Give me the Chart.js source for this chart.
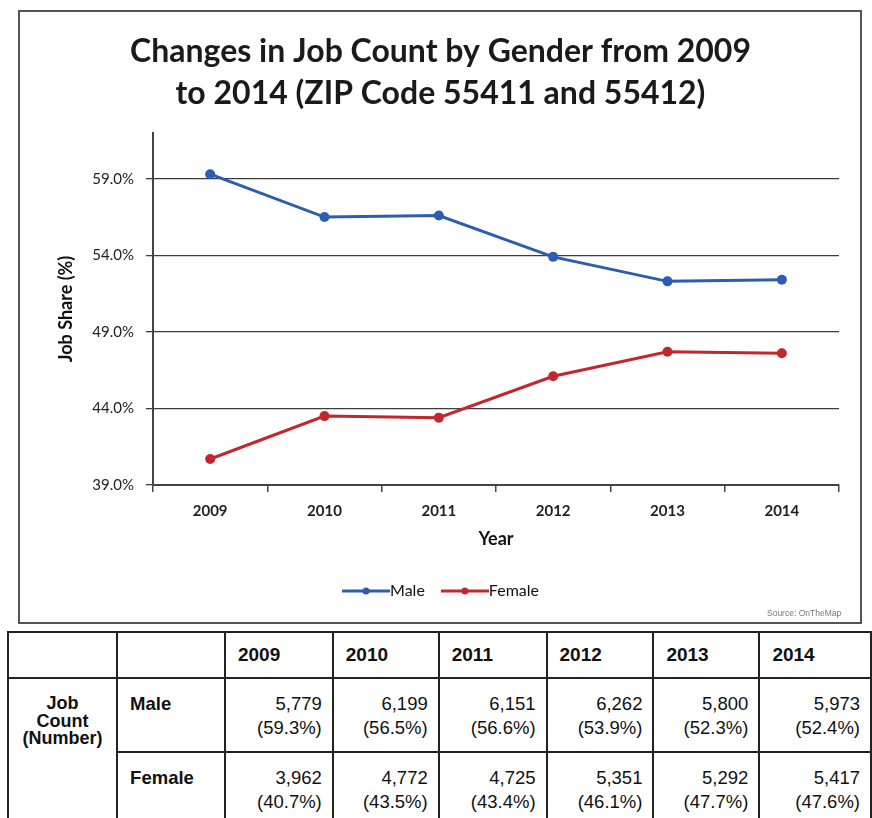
<!DOCTYPE html>
<html>
<head>
<meta charset="utf-8">
<title>Job Count by Gender</title>
<script src="https://cdn.jsdelivr.net/npm/chart.js@4.4.1/dist/chart.umd.min.js"></script>
<style>
  body { margin: 0; width: 872px; height: 818px; overflow: hidden; background: #fff; font-family: Lato, sans-serif; }
  #chartBox { position: absolute; left: 18px; top: 10px; width: 840px; height: 610px; border: 2px solid #555; background: #fff; }
  #jobChart { display: block; }
  #source { position: absolute; left: 747px; top: 596px; font: 8.5px "Liberation Sans", Arial, sans-serif; color: #777; }
  #jobTable { position: absolute; left: 7px; top: 631px; border-collapse: collapse; table-layout: fixed;
    font-family: "Liberation Sans", Arial, sans-serif; font-size: 18.5px; color: #111; }
  #jobTable td, #jobTable th { border: 2px solid #222; padding: 0; }
  #jobTable th { height: 44px; text-align: left; padding-left: 12px; font-weight: bold; font-size: 19px; }
  #jobTable td.val { text-align: right; vertical-align: top; padding: 13px 10px 0 0; line-height: 24px; height: 59px; }
  #jobTable td.sex { font-weight: bold; vertical-align: top; padding: 13px 0 0 12px; line-height: 24px; }
  #jobTable td.group { font-weight: bold; font-size: 18px; text-align: center; vertical-align: top; padding-top: 16px; line-height: 17.5px; }
</style>
</head>
<body>
<div id="chartBox">
  <canvas id="jobChart" width="840" height="610"></canvas>
  <div id="source">Source: OnTheMap</div>
</div>
<table id="jobTable"></table>

<script>
const years = ['2009', '2010', '2011', '2012', '2013', '2014'];
const maleShare = [59.3, 56.5, 56.6, 53.9, 52.3, 52.4];
const femaleShare = [40.7, 43.5, 43.4, 46.1, 47.7, 47.6];
const maleCount = [5779, 6199, 6151, 6262, 5800, 5973];
const femaleCount = [3962, 4772, 4725, 5351, 5292, 5417];
const yTicks = [39, 44, 49, 54, 59];

const blue = '#2d5db0';
const red = '#c1272d';

// legend swatch: short line with a dot in the middle
function legendMark(color) {
  const c = document.createElement('canvas');
  c.width = 56;
  c.height = 10;
  const g = c.getContext('2d');
  g.strokeStyle = color;
  g.lineWidth = 3;
  g.beginPath();
  g.moveTo(8, 5);
  g.lineTo(56, 5);
  g.stroke();
  g.fillStyle = color;
  g.beginPath();
  g.arc(32, 5, 3.5, 0, Math.PI * 2);
  g.fill();
  return c;
}
const marks = [legendMark(blue), legendMark(red)];

const ctx = document.getElementById('jobChart').getContext('2d');
new Chart(ctx, {
  type: 'line',
  data: {
    labels: years,
    datasets: [{
      label: 'Male',
      data: maleShare,
      borderColor: blue,
      backgroundColor: blue,
      borderWidth: 3,
      pointRadius: 5,
      pointBackgroundColor: blue,
      pointBorderWidth: 0
    }, {
      label: 'Female',
      data: femaleShare,
      borderColor: red,
      backgroundColor: red,
      borderWidth: 3,
      pointRadius: 5,
      pointBackgroundColor: red,
      pointBorderWidth: 0
    }]
  },
  options: {
    responsive: false,
    animation: false,
    devicePixelRatio: 1,
    layout: { padding: { top: 19, left: 22, right: 21, bottom: 13 } },
    plugins: {
      title: {
        display: true,
        text: ['Changes in Job Count by Gender from 2009', 'to 2014 (ZIP Code 55411 and 55412)'],
        font: { family: 'Lato', size: 32, weight: 'bold', lineHeight: 1.31 },
        color: '#1a1a1a',
        padding: { top: 0, bottom: 18 }
      },
      legend: {
        position: 'bottom',
        labels: {
          usePointStyle: true,
          pointStyleWidth: 40,
          boxHeight: 10,
          padding: 16,
          color: '#111',
          font: { family: 'Lato', size: 16 },
          generateLabels(chart) {
            return Chart.defaults.plugins.legend.labels.generateLabels(chart)
              .map((item, i) => ({ ...item, pointStyle: marks[i] }));
          }
        }
      },
      tooltip: { enabled: false }
    },
    scales: {
      x: {
        offset: true,
        grid: { offset: true, drawOnChartArea: false, tickLength: 7, color: '#444', lineWidth: 1.5 },
        border: { color: '#444', width: 2 },
        ticks: { font: { family: 'Lato', size: 15, weight: 'bold' }, color: '#222', padding: 10 },
        title: {
          display: true,
          text: 'Year',
          font: { family: 'Lato', size: 18, weight: 'bold', lineHeight: 1 },
          color: '#111',
          padding: { top: 0, bottom: 19 }
        }
      },
      y: {
        min: 39,
        max: 62,
        afterBuildTicks: axis => { axis.ticks = yTicks.map(v => ({ value: v })); },
        afterFit: scale => { scale.width = 111; },
        ticks: {
          font: { family: 'Lato', size: 15 },
          color: '#222',
          padding: 12,
          callback: v => v.toFixed(1) + '%'
        },
        grid: { color: '#3c3c3c', lineWidth: 1.3, tickLength: 7 },
        border: { color: '#444', width: 2 },
        title: {
          display: true,
          text: 'Job Share (%)',
          font: { family: 'Lato', size: 18, weight: 'bold' },
          color: '#111',
          padding: { top: 13, bottom: 0 }
        }
      }
    }
  }
});

// data table under the chart
const fmt = n => n.toLocaleString('en-US');
const colWidths = [111, 110, 110, 108, 110, 109, 108, 114];
let html = '<colgroup>' + colWidths.map(w => `<col style="width:${w}px">`).join('') + '</colgroup>';
html += '<tr><th></th><th></th>' + years.map(y => `<th>${y}</th>`).join('') + '</tr>';
html += '<tr><td class="group" rowspan="2">Job<br>Count<br>(Number)</td><td class="sex">Male</td>' +
  maleCount.map((n, i) => `<td class="val">${fmt(n)}<br>(${maleShare[i].toFixed(1)}%)</td>`).join('') + '</tr>';
html += '<tr><td class="sex">Female</td>' +
  femaleCount.map((n, i) => `<td class="val">${fmt(n)}<br>(${femaleShare[i].toFixed(1)}%)</td>`).join('') + '</tr>';
document.getElementById('jobTable').innerHTML = html;
</script>
</body>
</html>
